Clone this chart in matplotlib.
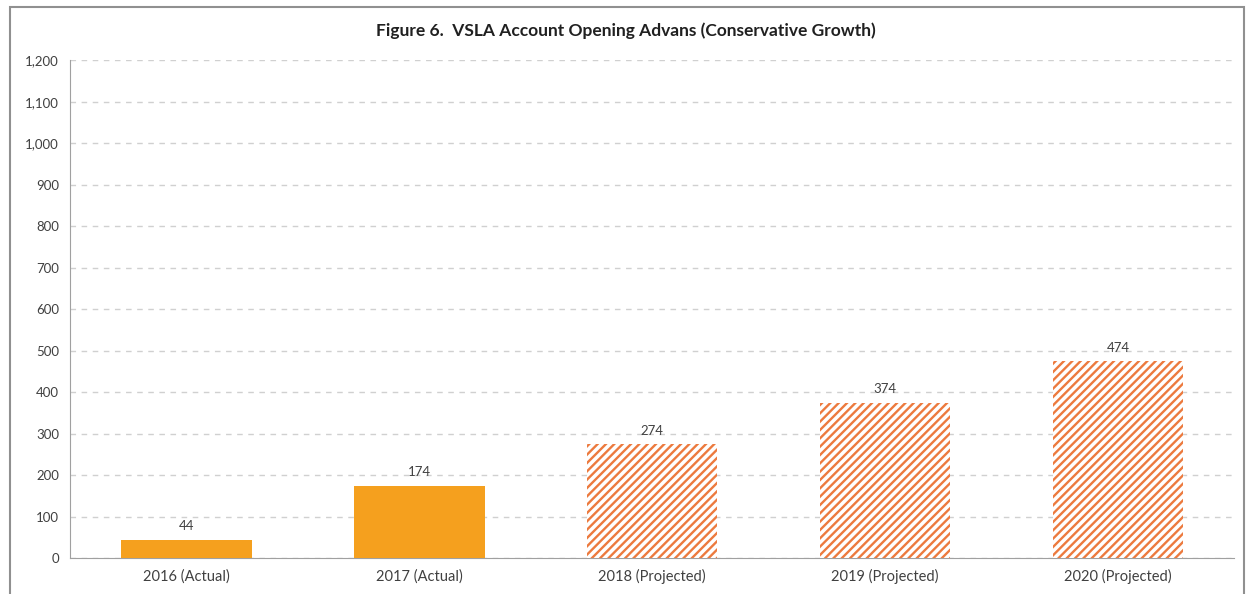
import matplotlib
matplotlib.use("Agg")
import matplotlib.pyplot as plt
from matplotlib.patches import Rectangle

# data
categories = ["2016 (Actual)", "2017 (Actual)", "2018 (Projected)", "2019 (Projected)", "2020 (Projected)"]
values = [44, 174, 274, 374, 474]
projected = [False, False, True, True, True]
yticks = list(range(0, 1201, 100))

plt.rcParams['font.family'] = ['Lato', 'DejaVu Sans']
plt.rcParams['hatch.linewidth'] = 1.7
plt.rcParams['hatch.color'] = '#EC7A3E'

fig = plt.figure(figsize=(12.52, 5.94), dpi=100)
ax = fig.add_axes([0.056, 0.0606, 0.93, 0.838])

x = list(range(len(categories)))
for i, (v, p) in enumerate(zip(values, projected)):
    if p:
        ax.bar(i, v, width=0.56, color='white', edgecolor='#EC7A3E', hatch='////', linewidth=0, zorder=3)
    else:
        ax.bar(i, v, width=0.56, color='#F5A01E', linewidth=0, zorder=3)
    ax.text(i, v + 18, str(v), ha='center', va='bottom', fontsize=9.5, color='#404040')

ax.set_xlim(-0.5, len(categories) - 0.5)
ax.set_ylim(0, 1200)
ax.set_yticks(yticks)
ax.set_yticklabels(["{:,}".format(t) for t in yticks])
ax.set_xticks(x)
ax.set_xticklabels(categories)
ax.tick_params(axis='both', length=0, labelsize=9.5, colors='#404040', pad=8)
ax.tick_params(axis='x', labelsize=10.5)
ax.yaxis.grid(True, linestyle=(0, (4, 4)), color='#D0D0D0', linewidth=1)
ax.set_axisbelow(True)
for s in ['top', 'right']:
    ax.spines[s].set_visible(False)
ax.spines['left'].set_color('#A0A0A0')
ax.spines['bottom'].set_color('#A0A0A0')

fig.text(0.5, 0.948, "Figure 6.  VSLA Account Opening Advans (Conservative Growth)",
         ha='center', va='center', fontsize=12.5, fontweight='bold', color='#202020')

# outer border
fig.patches.append(Rectangle((0.008, -0.01), 0.986, 0.998, transform=fig.transFigure,
                             fill=False, edgecolor='#909090', linewidth=1.5))

fig.savefig('out.png', dpi=100)
plt.close()
